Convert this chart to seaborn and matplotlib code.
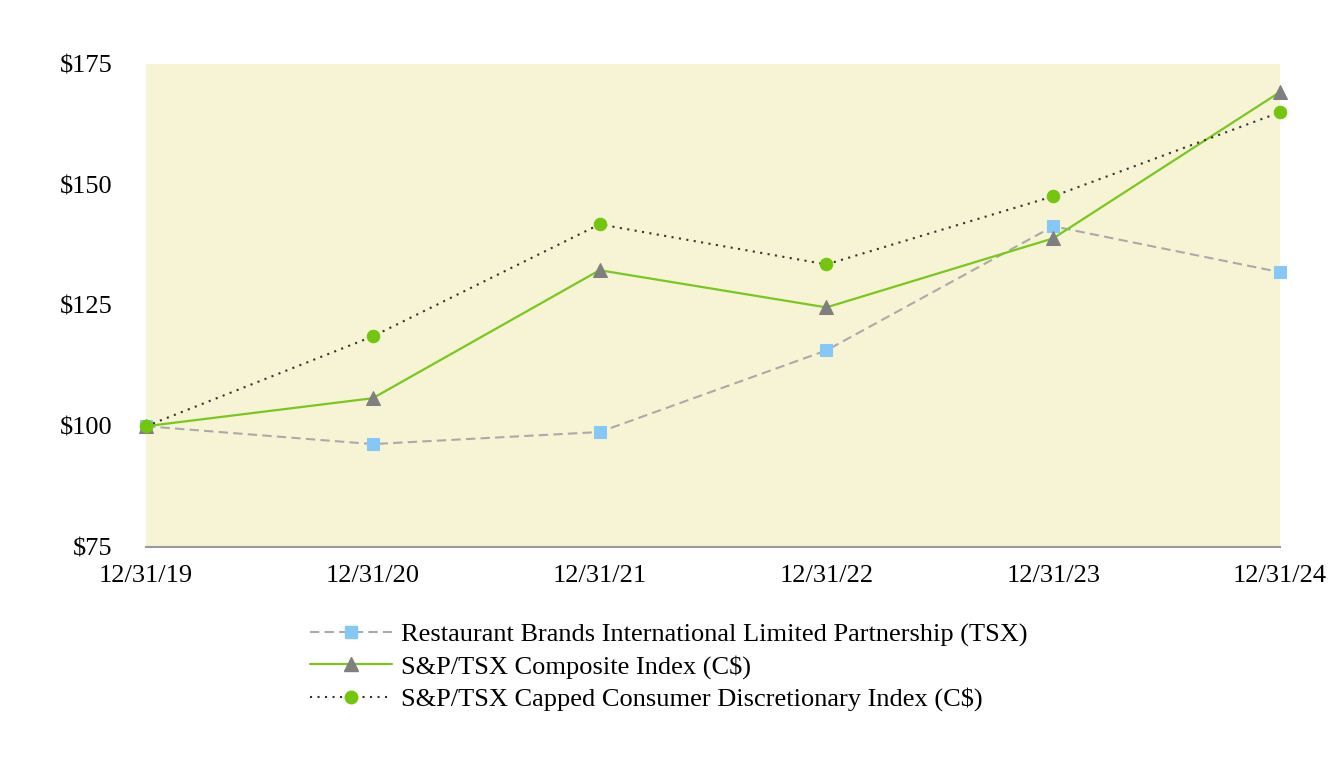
import numpy as np
import pandas as pd
import matplotlib
matplotlib.use("Agg")
import matplotlib.pyplot as plt
import seaborn as sns
from matplotlib.lines import Line2D

dates = ["12/31/19", "12/31/20", "12/31/21", "12/31/22", "12/31/23", "12/31/24"]
rbi = [100, 96.3, 98.8, 115.7, 141.4, 131.9]
composite = [100, 105.8, 132.3, 124.6, 138.9, 169.2]
cons_disc = [100, 118.6, 141.8, 133.5, 147.6, 165.0]
names = [
    "Restaurant Brands International Limited Partnership (TSX)",
    "S&P/TSX Composite Index (C$)",
    "S&P/TSX Capped Consumer Discretionary Index (C$)",
]
yticks = [75, 100, 125, 150, 175]

sns.set_theme(style="white")
plt.rcParams["font.family"] = ["Liberation Serif", "DejaVu Serif"]

fig = plt.figure(figsize=(13.44, 7.68), dpi=100)
ax = fig.add_axes([0.1086, 0.2878, 0.8438, 0.6289])
ax.set_facecolor("#F6F4D4")

x = np.arange(len(dates))
series = [
    (rbi, dict(color="#AAAAAA", linestyle=(0, (4.5, 2.5)), linewidth=1.5, marker="s",
               markersize=9, markerfacecolor="#85C8F7", markeredgecolor="#85C8F7")),
    (composite, dict(color="#78C81E", linestyle="-", linewidth=1.6, marker="^",
                     markersize=10, markerfacecolor="#7F7F7F", markeredgecolor="#7F7F7F")),
    (cons_disc, dict(color="#333333", linestyle=(0, (1, 2.6)), linewidth=1.5, marker="o",
                     markersize=9, markerfacecolor="#72C70E", markeredgecolor="#72C70E")),
]
handles = []
for (vals, kw), name in zip(series, names):
    df = pd.DataFrame({"x": x, "y": vals})
    sns.lineplot(data=df, x="x", y="y", ax=ax, clip_on=False, zorder=3, **kw)
    handles.append(Line2D([], [], label=name, **kw))

ax.set_xlim(0, 5)
ax.set_ylim(75, 175)
ax.set_xticks(x)
ax.set_xticklabels(dates)
ax.set_yticks(yticks)
ax.set_yticklabels([f"${v}" for v in yticks])
ax.tick_params(axis="both", length=0, labelsize=19, colors="black")
ax.tick_params(axis="x", pad=13)
ax.tick_params(axis="y", pad=24)
ax.set_xlabel("")
ax.set_ylabel("")
for s in ["top", "left", "right"]:
    ax.spines[s].set_visible(False)
ax.spines["bottom"].set_color("#999999")
ax.spines["bottom"].set_linewidth(1.5)

fig.legend(handles=handles, loc="upper left", bbox_to_anchor=(0.223, 0.203),
           frameon=False, fontsize=19, handlelength=3.1, handletextpad=0.35,
           labelspacing=0.32, borderaxespad=0, labelcolor="black")

fig.savefig("out.png", dpi=100)
